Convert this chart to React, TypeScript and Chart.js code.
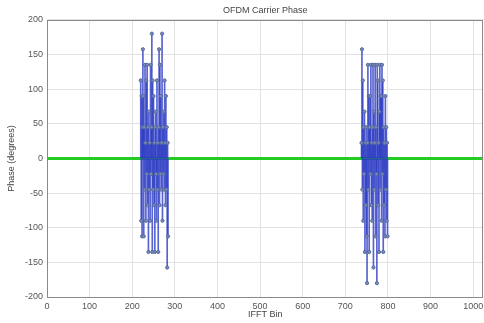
import React, { useEffect, useRef } from "react";
import { Chart, registerables } from "chart.js";

Chart.register(...registerables);

const chartTitle = "OFDM Carrier Phase";
const xTitle = "IFFT Bin";
const yTitle = "Phase (degrees)";

const xMin = 0;
const xMax = 1024;
const xTickValues = [0, 100, 200, 300, 400, 500, 600, 700, 800, 900, 1000];
const yMin = -200;
const yMax = 200;
const yTickValues = [-200, -150, -100, -50, 0, 50, 100, 150, 200];

// Lower cluster of active carriers
const leftStartBin = 220;
const leftPhases = [
  112.5, -90, 90, -112.5, 45,
  157.5, 90, -112.5, 45, -45, 135, 22.5, -90, 112.5, -22.5,
  135, -67.5, 45, -135, 67.5, -45, 22.5, -90, 135, -22.5,
  45, 180, -135, 112.5, -45, 90, -67.5, 22.5, -135, 45,
  67.5, -22.5, -90, 112.5, -45, 22.5, -135, 45, 157.5, -67.5,
  135, -22.5, 90, -45, 22.5, 180, -90, 45, -22.5, 67.5,
  -45, 112.5, 22.5, -67.5, 90, -45, 45, -157.5, 22.5, -112.5,
];

// Upper cluster of active carriers
const rightStartBin = 738;
const rightPhases = [
  22.5, 157.5, -45, 112.5, -90, 45, -22.5, 67.5, -135, 22.5,
  -67.5, 45, -112.5, -180, 22.5, 135, -45, 90, -135, 45,
  90, -22.5, 135, -67.5, 22.5, -90, 45, 135, -157.5, 67.5,
  -45, 22.5, 135, -112.5, 45, -22.5, -180, 135, 112.5, -67.5,
  22.5, -135, 67.5, 135, -45, 90, 90, -90, 135, -22.5,
  112.5, -135, 45, -67.5, 22.5, -112.5, 90, -45, 45, -90,
  22.5, -112.5,
];

// Zero-phase (unused) carriers drawn as a line
const zeroLineBins = [0, 1024];
const zeroLinePhases = [0, 0];

const FONT = "'Liberation Sans', Arial, sans-serif";

const boxPlugin = {
  id: "boxPlugin",
  afterDraw(chart: any) {
    const { ctx, chartArea } = chart;
    ctx.save();
    ctx.strokeStyle = "#8a8a8a";
    ctx.lineWidth = 1;
    ctx.strokeRect(
      Math.round(chartArea.left) + 0.5,
      Math.round(chartArea.top) + 0.5,
      Math.round(chartArea.right - chartArea.left) - 1,
      Math.round(chartArea.bottom - chartArea.top)
    );
    ctx.restore();
  },
};

export default function App() {
  const canvasRef = useRef<HTMLCanvasElement | null>(null);

  useEffect(() => {
    document.body.style.margin = "0";
    const points: { x: number; y: number }[] = [];
    leftPhases.forEach((p, i) => points.push({ x: leftStartBin + i, y: p }));
    rightPhases.forEach((p, i) => points.push({ x: rightStartBin + i, y: p }));
    const zeroLine = zeroLineBins.map((b, i) => ({ x: b, y: zeroLinePhases[i] }));

    const chart = new Chart(canvasRef.current as HTMLCanvasElement, {
      type: "bar",
      data: {
        datasets: [
          {
            type: "line",
            data: zeroLine,
            borderColor: "#22cc22",
            borderWidth: 3,
            pointRadius: 0,
            pointHoverRadius: 0,
            pointBorderWidth: 0,
            pointHoverBorderWidth: 0,
            order: 3,
          } as any,
          {
            type: "bar",
            data: points,
            backgroundColor: "rgba(45,60,195,0.8)",
            barThickness: 1,
            grouped: false,
            order: 2,
          } as any,
          {
            type: "scatter",
            data: points,
            showLine: false,
            pointRadius: 1.6,
            pointHoverRadius: 1.6,
            pointBorderWidth: 1,
            pointHoverBorderWidth: 1,
            pointBorderColor: "#55689e",
            pointBackgroundColor: "#7c8cba",
            order: 1,
          } as any,
        ],
      },
      options: {
        animation: false,
        responsive: true,
        maintainAspectRatio: false,
        layout: { padding: { left: 0, right: 1, top: 0, bottom: 0 } },
        plugins: {
          legend: { display: false },
          tooltip: { enabled: false },
          title: {
            display: true,
            fullSize: false,
            text: chartTitle,
            color: "#444",
            font: { family: FONT, size: 9, weight: "normal" },
            padding: { top: 5, bottom: 4 },
          },
        },
        scales: {
          x: {
            type: "linear",
            min: xMin,
            max: xMax,
            offset: false,
            ticks: {
              color: "#555",
              font: { family: FONT, size: 9 },
              padding: 4,
              maxRotation: 0,
              autoSkip: false,
              callback: (v: any) => String(v),
            },
            afterBuildTicks: (axis: any) => {
              axis.ticks = xTickValues.map((v) => ({ value: v }));
            },
            afterFit: (scale: any) => {
              scale.height = 26;
              scale.paddingRight = 0;
              scale.paddingLeft = 0;
            },
            grid: { color: "#e2e2e2", drawTicks: false, offset: false },
            border: { display: false },
            title: {
              display: true,
              text: xTitle,
              color: "#444",
              font: { family: FONT, size: 9 },
              padding: { top: 0, bottom: 3 },
            },
          },
          y: {
            type: "linear",
            min: yMin,
            max: yMax,
            ticks: {
              color: "#555",
              font: { family: FONT, size: 9 },
              padding: 4,
              autoSkip: false,
            },
            afterBuildTicks: (axis: any) => {
              axis.ticks = yTickValues.map((v) => ({ value: v }));
            },
            afterFit: (scale: any) => {
              scale.width = 47;
            },
            grid: { color: "#e2e2e2", drawTicks: false },
            border: { display: false },
            title: {
              display: true,
              text: yTitle,
              color: "#444",
              font: { family: FONT, size: 9 },
              padding: { top: 6, bottom: 2 },
            },
          },
        },
      },
      plugins: [boxPlugin],
    } as any);

    return () => chart.destroy();
  }, []);

  return (
    <div style={{ width: 484, height: 323, overflow: "hidden", background: "#fff" }}>
      <div style={{ position: "relative", width: 486, height: 323 }}>
        <canvas ref={canvasRef} />
      </div>
    </div>
  );
}
